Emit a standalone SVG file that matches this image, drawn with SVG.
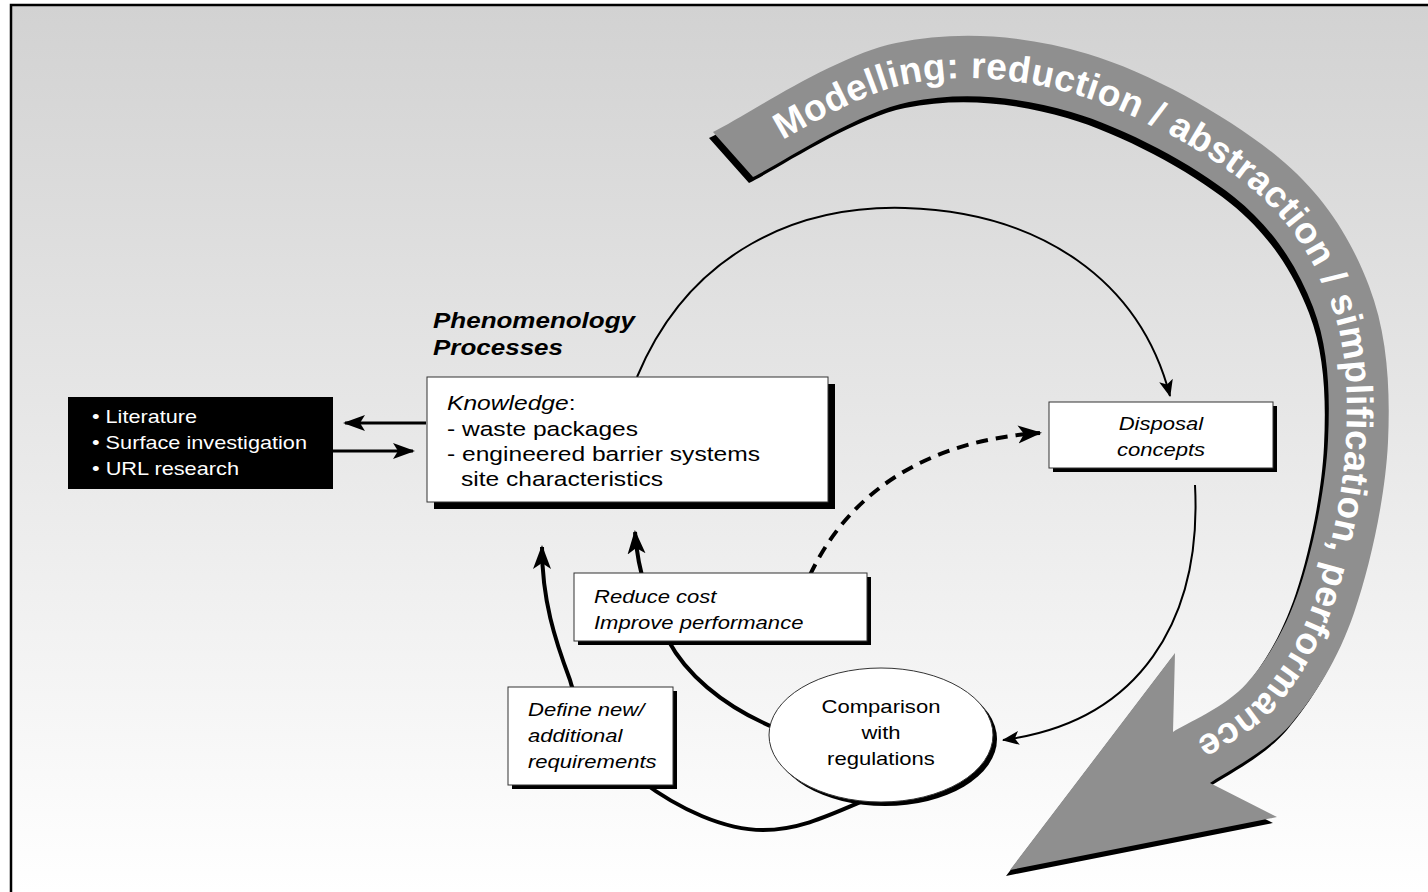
<svg xmlns="http://www.w3.org/2000/svg" width="1428" height="892" viewBox="0 0 1428 892">
<style>
.t{font-family:"Liberation Sans",Arial,Helvetica,sans-serif;font-size:19px;fill:#000}
.k{font-size:20.5px}
.i{font-style:italic}
.w{fill:#fff}
.hdr{font-family:"Liberation Sans",Arial,Helvetica,sans-serif;font-size:22px;font-weight:bold;font-style:italic}
.band{font-family:"Liberation Sans",Arial,Helvetica,sans-serif;font-size:37px;font-weight:bold;fill:#fff;letter-spacing:0.5px}
.box{fill:#fff;stroke:#333;stroke-width:1}
.sh{fill:#000}
.conn path{fill:none;stroke:#000}
.thin{stroke-width:2}
.thick{stroke-width:4}
.mid{stroke-width:3}
</style>
<defs>
<linearGradient id="bg" x1="0" y1="0" x2="0" y2="1">
<stop offset="0" stop-color="#d2d2d2"/>
<stop offset="1" stop-color="#ffffff"/>
</linearGradient>
<marker id="mThin" markerUnits="userSpaceOnUse" markerWidth="20" markerHeight="16" refX="16" refY="7" orient="auto"><path d="M0,0 L17,7 L0,14 L4,7 Z" fill="#000"/></marker>
<marker id="mThick" markerUnits="userSpaceOnUse" markerWidth="28" markerHeight="22" refX="22" refY="9" orient="auto"><path d="M0,0 L24,9 L0,18 L6,9 Z" fill="#000"/></marker>
<marker id="mMid" markerUnits="userSpaceOnUse" markerWidth="26" markerHeight="18" refX="20" refY="8" orient="auto"><path d="M0,0 L22,8 L0,16 L5,8 Z" fill="#000"/></marker>
<path id="bandShape" d="M753,177 C779,164.5 856,112.8 909,102 C962,91.2 1016.8,96.2 1071,112 C1125.2,127.8 1193.7,164.5 1234,197 C1274.3,229.5 1297.3,266.5 1313,307 C1328.7,347.5 1330.2,393.3 1328,440 C1325.8,486.7 1313.5,546.5 1300,587 C1286.5,627.5 1268.2,658.8 1247,683 C1225.8,707.2 1185.3,723.8 1173,732 L1175,653 L1010,870 L1277,817 L1210,783 C1223.5,773.2 1267,752.3 1291,724 C1315,695.7 1337.8,660 1354,613 C1370.2,566 1385.5,496.5 1388,442 C1390.5,387.5 1387.3,333.5 1369,286 C1350.7,238.5 1324.8,195.7 1278,157 C1231.2,118.3 1151.7,73 1088,54 C1024.3,35 958.5,30 896,43 C833.5,56 743.5,117.2 713,132 Z"/>
<path id="tp" d="M741,163.6 C768.4,150.4 849.4,95.9 905.2,84.4 C961,72.9 1019,77.95 1076,94.7 C1133,111.5 1204.9,150.55 1247.2,184.9 C1289.5,219.25 1313.4,258.2 1329.9,300.8 C1346.4,343.4 1348.3,391.5 1346,440.5 C1343.7,489.5 1330.5,552.4 1316.2,594.9 C1301.9,637.4 1282.35,670 1260.1,695.4 C1237.85,720.8 1195.6,738.6 1182.7,747.2 L1150,765"/>
</defs>
<rect x="0" y="0" width="1428" height="892" fill="#fff"/>
<rect x="11" y="5" width="1417" height="887" fill="url(#bg)"/>
<path d="M11,892 V5 H1428" fill="none" stroke="#000" stroke-width="2.5"/>

<g id="modelling-arrow">
<use href="#bandShape" transform="translate(-4,6)" fill="#000"/>
<use href="#bandShape" fill="#8f8f8f"/>
<text class="band"><textPath href="#tp" startOffset="48">Modelling: reduction /</textPath></text>
<text class="band"><textPath href="#tp" startOffset="454.2">abstraction /</textPath></text>
<text class="band"><textPath href="#tp" startOffset="691.5">simplification,</textPath></text>
<text class="band"><textPath href="#tp" startOffset="958.6">performance</textPath></text>
</g>

<g id="connectors" class="conn">
<path class="thin" d="M637,377 C690,250 800,205 905,208 C1040,212 1140,280 1170,396" marker-end="url(#mThin)"/>
<path class="thin" d="M1195,485 C1202,620 1140,722 1003,740" marker-end="url(#mThin)"/>
<path class="thick" stroke-dasharray="12 8" d="M810,575 C850,490 930,440 1040,433" marker-end="url(#mThick)"/>
<path class="thick" d="M775,728 C720,705 685,672 668,640 C650,605 638,575 635,532" marker-end="url(#mThick)"/>
<path class="thick" d="M870,798 C830,815 800,830 763,830 C725,830 680,810 640,780 C600,750 575,700 570,680 C555,640 542,600 542,547" marker-end="url(#mThick)"/>
<path class="mid" d="M426,423 L345,423" marker-end="url(#mMid)"/>
<path class="mid" d="M333,451 L413,451" marker-end="url(#mMid)"/>
</g>

<g id="sources">
<rect x="68" y="397" width="265" height="92" fill="#000"/>
<text class="t w" x="92" y="423" textLength="105" lengthAdjust="spacingAndGlyphs">• Literature</text>
<text class="t w" x="92" y="449" textLength="215" lengthAdjust="spacingAndGlyphs">• Surface investigation</text>
<text class="t w" x="92" y="475" textLength="147" lengthAdjust="spacingAndGlyphs">• URL research</text>
</g>

<g id="knowledge">
<text class="hdr" x="433" y="328" textLength="202" lengthAdjust="spacingAndGlyphs">Phenomenology</text>
<text class="hdr" x="433" y="355" textLength="130" lengthAdjust="spacingAndGlyphs">Processes</text>
<rect class="sh" x="434" y="384" width="401" height="125"/>
<rect class="box" x="427" y="377" width="401" height="125"/>
<text class="t k" x="447" y="410" textLength="128.5" lengthAdjust="spacingAndGlyphs"><tspan class="i">Knowledge</tspan>:</text>
<text class="t k" x="447" y="436" textLength="191" lengthAdjust="spacingAndGlyphs">- waste packages</text>
<text class="t k" x="447" y="461" textLength="313" lengthAdjust="spacingAndGlyphs">- engineered barrier systems</text>
<text class="t k" x="461" y="486" textLength="202" lengthAdjust="spacingAndGlyphs">site characteristics</text>
</g>

<g id="disposal">
<rect class="sh" x="1053" y="406" width="224" height="66"/>
<rect class="box" x="1049" y="402" width="224" height="66"/>
<text class="t i" x="1118.7" y="430" textLength="84.5" lengthAdjust="spacingAndGlyphs">Disposal</text>
<text class="t i" x="1116.9" y="456" textLength="88.2" lengthAdjust="spacingAndGlyphs">concepts</text>
</g>

<g id="reduce">
<rect class="sh" x="578" y="577" width="293" height="68"/>
<rect class="box" x="574" y="573" width="293" height="68"/>
<text class="t i" x="594" y="603" textLength="122.5" lengthAdjust="spacingAndGlyphs">Reduce cost</text>
<text class="t i" x="594" y="629" textLength="209.4" lengthAdjust="spacingAndGlyphs">Improve performance</text>
</g>

<g id="define">
<rect class="sh" x="512" y="691" width="165" height="98"/>
<rect class="box" x="508" y="687" width="165" height="98"/>
<text class="t i" x="528" y="716" textLength="116.4" lengthAdjust="spacingAndGlyphs">Define new/</text>
<text class="t i" x="528" y="742" textLength="94.3" lengthAdjust="spacingAndGlyphs">additional</text>
<text class="t i" x="528" y="768" textLength="128.6" lengthAdjust="spacingAndGlyphs">requirements</text>
</g>

<g id="comparison">
<ellipse class="sh" cx="885" cy="739" rx="112" ry="67"/>
<ellipse class="box" cx="881" cy="735" rx="112" ry="67"/>
<text class="t" x="821.6" y="713" textLength="118.8" lengthAdjust="spacingAndGlyphs">Comparison</text>
<text class="t" x="861.4" y="739" textLength="39.2" lengthAdjust="spacingAndGlyphs">with</text>
<text class="t" x="827.1" y="765" textLength="107.8" lengthAdjust="spacingAndGlyphs">regulations</text>
</g>
</svg>
